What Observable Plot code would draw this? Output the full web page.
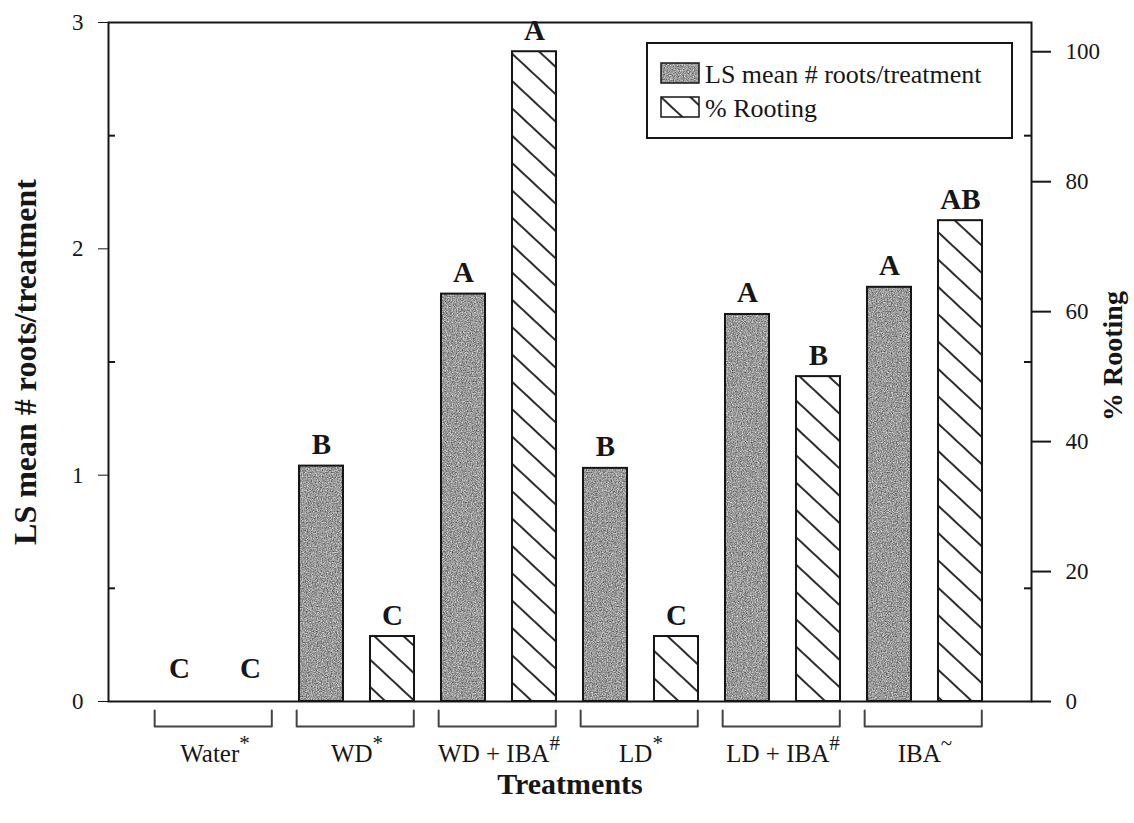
<!DOCTYPE html>
<html>
<head>
<meta charset="utf-8">
<script src="https://cdn.jsdelivr.net/npm/d3@7"></script>
<script src="https://cdn.jsdelivr.net/npm/@observablehq/plot@0.6"></script>
<style>
  body { margin: 0; background: #fff; }
  #chart svg { display: block; }
</style>
</head>
<body>
<div id="chart"></div>
<script>
// Treatments and their results
const treatments = ["Water", "WD", "WD + IBA", "LD", "LD + IBA", "IBA"];
const superscripts = ["*", "*", "#", "*", "#", "~"];
const meanRoots = [0, 1.04, 1.80, 1.03, 1.71, 1.83];
const pctRooting = [0, 10, 100, 10, 50, 74];
const rootLetters = ["C", "B", "A", "B", "A", "A"];
const rootingLetters = ["C", "C", "A", "C", "B", "AB"];

// Axis ticks
const leftTicks = [0, 1, 2, 3];
const leftMinorTicks = [0.5, 1.5, 2.5];
const rightTicks = [0, 20, 40, 60, 80, 100];
const legendLabels = ["LS mean # roots/treatment", "% Rooting"];

// % Rooting shares the frame with the root counts: top of frame = 104.5 %
const rightMax = 104.5;
const toLeft = p => p * 3 / rightMax;

// each treatment holds two slots: 2i (roots) and 2i + 1 (rooting)
const bars = treatments.flatMap((t, i) => [
  {slot: 2 * i, value: meanRoots[i], letter: rootLetters[i], kind: "roots"},
  {slot: 2 * i + 1, value: toLeft(pctRooting[i]), letter: rootingLetters[i], kind: "rooting"}
]);

const half = 0.31;         // half bar width, in slots
const px = 13 / 923;       // one pixel in slot units (x domain spans 13 slots over 923 px)
const py = 3 / 679;        // one pixel in y units

const brackets = treatments.flatMap((t, i) => {
  const a = 2 * i - 0.35, b = 2 * i + 1 + 0.3;
  return [[a, -9 * py], [a, -25 * py], [b, -25 * py], [b, -9 * py]].map(([x, y]) => ({x, y, g: t}));
});

const ink = "#161616";
const letterStyle = {x: "slot", y: "value", text: "letter", lineAnchor: "bottom", fontWeight: "bold", fontSize: 29, fill: ink};

const chart = Plot.plot({
  width: 1134,
  height: 823,
  marginLeft: 108,
  marginRight: 103,
  marginTop: 22,
  marginBottom: 122,
  style: {
    fontFamily: "'Liberation Serif', 'Times New Roman', serif",
    fontSize: "23px",
    color: ink,
    background: "#fff"
  },
  x: {type: "linear", domain: [-1, 12], axis: null},
  y: {domain: [0, 3], ticks: leftTicks, tickSize: 10, tickPadding: 15, tickFormat: d3.format("d"), label: null},
  marks: [
    // bars
    Plot.rectY(bars.filter(d => d.kind === "roots" && d.value > 0), {
      x1: d => d.slot - half, x2: d => d.slot + half, y1: 0, y2: "value",
      fill: "url(#stipple)", stroke: ink, strokeWidth: 2
    }),
    Plot.rectY(bars.filter(d => d.kind === "rooting" && d.value > 0), {
      x1: d => d.slot - half, x2: d => d.slot + half, y1: 0, y2: "value",
      fill: "url(#hatch)", stroke: ink, strokeWidth: 2
    }),
    // significance letters
    Plot.text(bars.filter(d => d.value > 0), {...letterStyle, dy: -12}),
    Plot.text(bars.filter(d => d.value === 0), {...letterStyle, dy: -24}),
    // frame
    Plot.frame({stroke: ink, strokeWidth: 2}),
    // minor ticks pointing into the frame on both sides
    Plot.ruleY(leftMinorTicks, {x1: -1, x2: -1 + 7 * px, stroke: ink, strokeWidth: 2}),
    Plot.ruleY(leftMinorTicks, {x1: 12 - 7 * px, x2: 12, stroke: ink, strokeWidth: 2}),
    // right axis (% Rooting)
    Plot.ruleY(rightTicks, {y: d => toLeft(d), x1: 12, x2: 12 + 20 * px, stroke: ink, strokeWidth: 2}),
    Plot.text(rightTicks, {y: d => toLeft(d), x: 12, text: d => String(d), dx: 34, textAnchor: "start", fill: ink}),
    // treatment brackets and labels
    Plot.line(brackets, {x: "x", y: "y", z: "g", stroke: "#444", strokeWidth: 2}),
    Plot.text(treatments, {
      x: (d, i) => 2 * i + 0.5, y: -52 * py, text: d => d,
      fontSize: 25, fill: ink
    }),
    // axis titles
    Plot.text(["LS mean # roots/treatment"], {
      frameAnchor: "left", textAnchor: "middle", dx: -83, rotate: -90,
      fontWeight: "bold", fontSize: 32, fill: ink
    }),
    Plot.text(["% Rooting"], {
      frameAnchor: "right", textAnchor: "middle", dx: 82, dy: -6, rotate: -90,
      fontWeight: "bold", fontSize: 28, fill: ink
    }),
    Plot.text(["Treatments"], {
      frameAnchor: "bottom", textAnchor: "middle", dy: 92, fontWeight: "bold", fontSize: 30, fill: ink
    })
  ]
});

document.getElementById("chart").appendChild(chart);
const svg = d3.select(chart);

// fills: grainy gray and diagonal hatching
svg.insert("defs", ":first-child").html(`
  <filter id="grain" x="0" y="0" width="100%" height="100%" color-interpolation-filters="sRGB">
    <feTurbulence type="fractalNoise" baseFrequency="0.8" numOctaves="2" seed="4" result="t"/>
    <feColorMatrix in="t" type="matrix"
      values="0.8 0 0 0 0.2  0.8 0 0 0 0.2  0.8 0 0 0 0.2  0 0 0 0 1"/>
  </filter>
  <pattern id="stipple" patternUnits="userSpaceOnUse" width="300" height="300">
    <rect width="300" height="300" fill="#707070" filter="url(#grain)"/>
  </pattern>
  <pattern id="hatch" patternUnits="userSpaceOnUse" width="20" height="20" patternTransform="rotate(-47)">
    <rect width="20" height="20" fill="#fff"/>
    <line x1="10" y1="-2" x2="10" y2="22" stroke="${ink}" stroke-width="1.8"/>
  </pattern>
`);

// raised marks after the treatment names
svg.selectAll("text").filter(function() {
  return this.childElementCount === 0 && treatments.includes(this.textContent);
}).each(function() {
  const i = treatments.indexOf(this.textContent);
  d3.select(this).append("tspan")
    .attr("dy", -12)
    .attr("font-size", 21)
    .text(superscripts[i]);
});

// legend inside the frame, top right
const xs = chart.scale("x"), ys = chart.scale("y");
const legendRight = xs.apply(12) - 19, legendTop = ys.apply(3) + 21;
const boxW = 365, boxH = 95;
const lg = svg.append("g").attr("transform", `translate(${legendRight - boxW},${legendTop})`);
lg.append("rect").attr("width", boxW).attr("height", boxH)
  .attr("fill", "#fff").attr("stroke", ink).attr("stroke-width", 2);
const fills = ["url(#stipple)", "url(#hatch)"];
legendLabels.forEach((label, i) => {
  const yRow = 31 + i * 34;
  lg.append("rect").attr("x", 14).attr("y", yRow - 11).attr("width", 38).attr("height", 20)
    .attr("fill", fills[i]).attr("stroke", ink).attr("stroke-width", 1.5);
  lg.append("text").attr("x", 58).attr("y", yRow).attr("dy", "0.33em")
    .attr("text-anchor", "start").attr("font-size", 26).attr("fill", ink).text(label);
});
</script>
</body>
</html>
